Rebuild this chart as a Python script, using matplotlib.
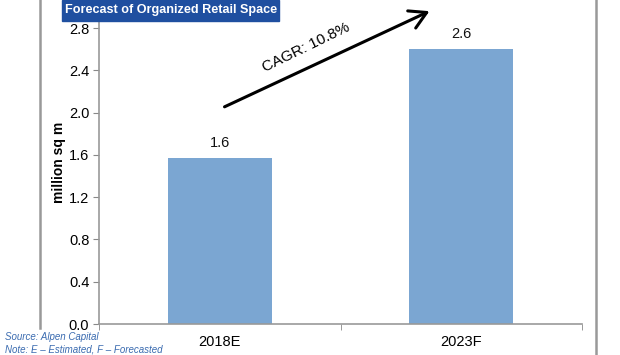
import matplotlib
matplotlib.use("Agg")
import matplotlib.pyplot as plt
from matplotlib.lines import Line2D
from matplotlib.patches import Rectangle, FancyArrowPatch

categories = ["2018E", "2023F"]
values = [1.57, 2.60]
value_labels = ["1.6", "2.6"]
yticks = [0.0, 0.4, 0.8, 1.2, 1.6, 2.0, 2.4, 2.8]
title = "Forecast of Organized Retail Space"
ylabel = "million sq m"
cagr_text = "CAGR: 10.8%"
source_lines = ["Source: Alpen Capital", "Note: E \u2013 Estimated, F \u2013 Forecasted"]

W, H = 620, 355
fig = plt.figure(figsize=(6.2, 3.55), dpi=100)
plt.rcParams['font.family'] = ['Liberation Sans', 'DejaVu Sans']

ax = fig.add_axes([99 / W, (H - 324) / H, (582 - 99) / W, 324 / H])
ax.set_xlim(-0.5, 1.5)
top_val = 2.8 + 28 / ((324 - 28) / 2.8)
ax.set_ylim(0, top_val)

x = list(range(len(categories)))
ax.bar(x, values, width=0.43, color="#7BA6D2", zorder=2)
for xi, v, lab in zip(x, values, value_labels):
    ax.annotate(lab, (xi, v), xytext=(0, 6), textcoords="offset points",
                ha="center", va="bottom", fontsize=10.5, color="#111111")

ax.set_yticks(yticks)
ax.set_yticklabels([f"{t:.1f}" for t in yticks], fontsize=10.5)
ax.set_xticks(x)
ax.set_xticklabels(categories, fontsize=10.5)
ax.tick_params(axis='x', which='major', length=0, pad=8)
ax.set_xticks([-0.5, 0.5, 1.5], minor=True)
ax.tick_params(axis='x', which='minor', length=4, color="#888888", direction='out')
ax.tick_params(axis='y', length=4, color="#888888", direction='out', pad=3)
for s in ["top", "right"]:
    ax.spines[s].set_visible(False)
for s in ["left", "bottom"]:
    ax.spines[s].set_color("#999999")
    ax.spines[s].set_linewidth(1.2)
ax.set_ylabel(ylabel, fontsize=10, fontweight="bold", labelpad=2)

def fx(px):
    return px / W
def fy(py):
    return (H - py) / H

fig.patches.append(FancyArrowPatch(
    (fx(222), fy(108)), (fx(432), fy(10)), transform=fig.transFigure,
    arrowstyle="->,head_length=7,head_width=4", lw=2.2, color="black",
    mutation_scale=1.7))
fig.text(fx(306), fy(47), cagr_text, rotation=26, ha="center", va="center",
         fontsize=11, rotation_mode="anchor")

fig.patches.append(Rectangle((fx(62), fy(21)), (279 - 62) / W, 21 / H,
                             transform=fig.transFigure, color="#1F4FA0"))
fig.text(fx(65), fy(10.5), title, color="white", fontsize=9.1, fontweight="bold",
         ha="left", va="center")

fig.add_artist(Line2D([fx(40), fx(40)], [fy(0), fy(328)], color="#999999", lw=1.8))
fig.add_artist(Line2D([fx(596), fx(596)], [fy(0), fy(355)], color="#999999", lw=1.8))

fig.text(fx(5), fy(337), source_lines[0], color="#3A6BB0", fontsize=7, style="italic",
         ha="left", va="center")
fig.text(fx(5), fy(349), source_lines[1], color="#3A6BB0", fontsize=7, style="italic",
         ha="left", va="center")

fig.savefig("out.png", dpi=100)
